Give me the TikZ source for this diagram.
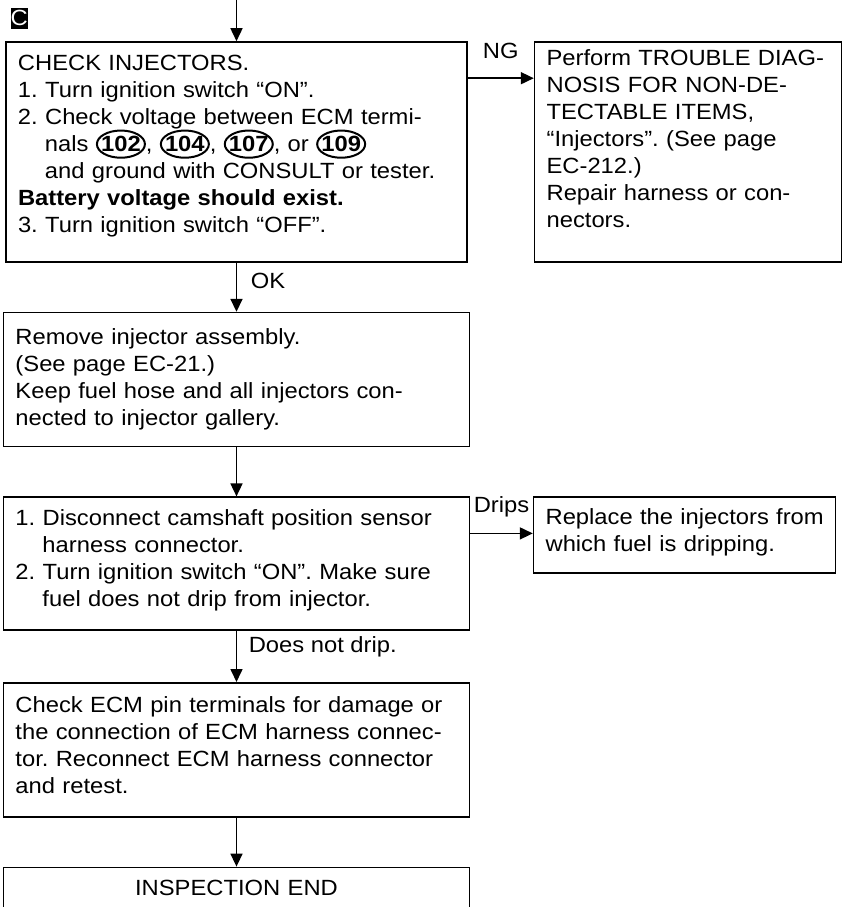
\documentclass[tikz,border=0pt]{standalone}
\usepackage{fontspec}
\setmainfont[FakeStretch=1.08]{Liberation Sans}
\usetikzlibrary{arrows.meta,positioning}
\frenchspacing
\tikzset{
  blk/.style={draw,rectangle,line width=0.8pt,inner xsep=6pt,inner ysep=6pt,align=left,text width=221pt,font=\fontsize{11pt}{13.5pt}\selectfont},
  sideblk/.style={blk,text width=141.5pt},
  tagblk/.style={fill=black,text=white,minimum width=8pt,minimum height=10.5pt,inner sep=0pt,font=\fontsize{11pt}{13.5pt}\selectfont},
  arr/.style={-{Triangle[length=6.5pt,width=6pt]},line width=0.8pt},
  lbl/.style={inner sep=1pt,font=\fontsize{11pt}{13.5pt}\selectfont}
}
\newcommand{\hind}{\hspace*{13.5pt}}
\newcommand{\termno}[1]{\tikz[baseline=(tn.base)]{\node[inner sep=0pt,text width=,text height=,text depth=,align=none,font=\bfseries] (tn) {#1};\draw[line width=1pt] (tn.center) ellipse (12pt and 6.8pt);}}

\begin{document}
\begin{tikzpicture}[x=0.5pt,y=-0.5pt,node distance=24.5pt]
  \useasboundingbox (0,0) rectangle (844,907);

  \node[blk,text width=218.5pt,text height=8.35pt,text depth=89.65pt] (chk) at (236.5,152)
    {CHECK INJECTORS.\\
     1. Turn ignition switch “ON”.\\
     2. Check voltage between ECM termi-\\
     \hind nals \termno{102}, \termno{104}, \termno{107}, or \termno{109}\\
     \hind and ground with CONSULT or tester.\\
     \textbf{Battery voltage should exist.}\\
     3. Turn ignition switch “OFF”.};
  \node[tagblk,above right=6pt and 2.5pt of chk.north west,anchor=south west] (tag) {C};
  \node[sideblk,right=33pt of chk.north east,anchor=north west,text height=5.85pt,text depth=92.15pt] (diag)
    {\mbox{Perform TROUBLE DIAG-}\\
     NOSIS FOR NON-DE-\\
     TECTABLE ITEMS,\\
     “Injectors”. (See page\\
     EC-212.)\\
     Repair harness or con-\\
     nectors.};
  \node[blk,below=of chk,text height=9.85pt,text depth=45.15pt] (rem)
    {Remove injector assembly.\\
     (See page EC-21.)\\
     Keep fuel hose and all injectors con-\\
     nected to injector gallery.};
  \node[blk,below=of rem,text height=8.35pt,text depth=46.15pt] (drip)
    {1. Disconnect camshaft position sensor\\
     \hind harness connector.\\
     2. Turn ignition switch “ON”. Make sure\\
     \hind fuel does not drip from injector.};
  \node[sideblk,text width=139pt,right=31.25pt of drip.north east,anchor=north west,text height=7.85pt,text depth=18.15pt] (repl)
    {\mbox{Replace the injectors from}\\
     which fuel is dripping.};
  \node[blk,below=25.5pt of drip,text height=8.85pt,text depth=46.15pt] (ecm)
    {Check ECM pin terminals for damage or\\
     the connection of ECM harness connec-\\
     tor. Reconnect ECM harness connector\\
     and retest.};
  \node[blk,below=of ecm,align=center,text height=7.85pt,text depth=14.15pt] (fin) {INSPECTION END};

  \coordinate[above=21pt of chk] (entry);
  \coordinate[below=18.5pt of chk.north east] (ngout);
  \coordinate[below=18.5pt of drip.north east] (dripout);

  \draw[arr] (entry) -- (chk);
  \draw[arr] (ngout) -- (ngout -| diag.west) node[lbl,midway,above=8.5pt] (ngl) {NG};
  \draw[arr] (chk) -- (rem) node[lbl,pos=0.37,right=5.75pt] (okl) {OK};
  \draw[arr] (rem) -- (drip);
  \draw[arr] (dripout) -- (dripout -| repl.west) node[lbl,midway,above=7pt] (dripl) {Drips};
  \draw[arr] (drip) -- (ecm) node[lbl,pos=0.31,right=4.75pt] (dndl) {Does not drip.};
  \draw[arr] (ecm) -- (fin);
\end{tikzpicture}
\end{document}
